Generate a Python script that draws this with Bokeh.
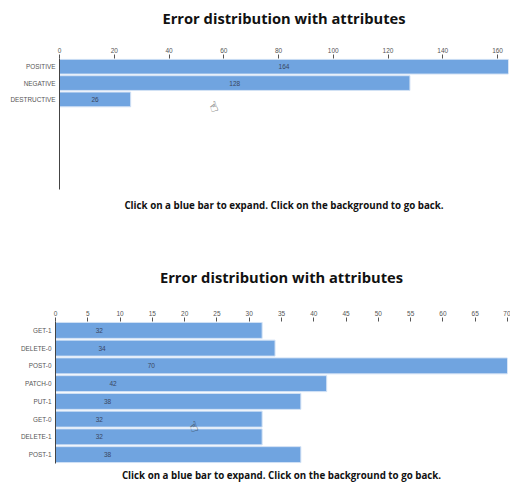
from bokeh.plotting import figure
from bokeh.layouts import column
from bokeh.models import FactorRange, Range1d, SingleIntervalTicker, Label, Title
from bokeh.core.properties import value
from bokeh.embed import file_html
from bokeh.resources import INLINE

TITLE = "Error distribution with attributes"
NOTE = "Click on a blue bar to expand. Click on the background to go back."

top_categories = ["POSITIVE", "NEGATIVE", "DESTRUCTIVE"]
top_values = [164, 128, 26]
top_blank_rows = 5
top_max = 164
top_tick_step = 20

bottom_categories = ["GET-1", "DELETE-0", "POST-0", "PATCH-0", "PUT-1", "GET-0", "DELETE-1", "POST-1"]
bottom_values = [32, 34, 70, 42, 38, 32, 32, 38]
bottom_max = 70
bottom_tick_step = 5

BAR = "#70a4e0"
EDGE = "#d3e2f5"
TEXT = "#555555"
LABEL = "#3a4660"


def chart(cats, vals, xmax, step, blanks, frame_w, frame_h, left, right, top, bottom,
          title_standoff, note_standoff, label_xs, hand_xy, margin):
    blank = [" " * (i + 1) for i in range(blanks)]
    factors = list(reversed(cats + blank))
    p = figure(width=left + frame_w + right, height=top + frame_h + bottom, frame_align=False,
               x_range=Range1d(0, xmax), y_range=FactorRange(factors=factors),
               x_axis_location="above", toolbar_location=None, output_backend="svg", margin=margin,
               min_border_left=left, min_border_right=right, min_border_top=top, min_border_bottom=bottom,
               background_fill_color="white", border_fill_color="white", outline_line_color=None)
    p.grid.visible = False
    p.hbar(y=cats, left=0, right=vals, height=0.9, fill_color=BAR, line_color=EDGE, line_width=1)
    p.text(x=label_xs, y=cats, text=[str(v) for v in vals], text_align="center", text_baseline="middle",
           text_font=value("Liberation Sans"), text_font_size="6.5px", text_color=LABEL)

    xa = p.xaxis[0]
    xa.ticker = SingleIntervalTicker(interval=step)
    xa.axis_line_color = None
    xa.major_tick_in = 0
    xa.major_tick_out = 4
    xa.minor_tick_line_color = None
    xa.major_tick_line_color = "#555555"
    xa.major_label_standoff = 2
    xa.major_label_text_font = "Liberation Sans"
    xa.major_label_text_font_size = "6.5px"
    xa.major_label_text_color = TEXT

    ya = p.yaxis[0]
    ya.axis_line_color = "#444444"
    ya.axis_line_width = 1
    ya.major_tick_line_color = None
    ya.minor_tick_line_color = None
    ya.major_tick_in = 0
    ya.major_tick_out = 0
    ya.major_label_standoff = 4
    ya.major_label_text_font = "Liberation Sans"
    ya.major_label_text_font_size = "6.4px"
    ya.major_label_text_color = TEXT

    p.add_layout(Title(text=TITLE, align="center", text_font="Open Sans", text_font_style="bold",
                       text_font_size="14.7px", text_color="#111111", standoff=title_standoff), "above")
    p.add_layout(Title(text=NOTE, align="center", text_font="Open Sans", text_font_style="bold",
                       text_font_size="9.75px", text_color="#111111", standoff=note_standoff), "below")
    p.add_layout(Label(x=hand_xy[0], y=hand_xy[1], x_units="screen", y_units="screen", text="\u261d",
                       text_font="DejaVu Sans", text_font_size="14px", text_color="#222222",
                       text_align="center", text_baseline="middle", angle=0.3))
    return p


top_scale = 449 / top_max
bottom_scale = 452 / bottom_max
# Value labels sit at half the bar on the chart's own scale; the lower chart keeps the upper chart's scale.
top_label_x = [v / 2 for v in top_values]
bottom_label_x = [v / 2 * top_scale / bottom_scale for v in bottom_values]

p1 = chart(top_categories, top_values, top_max, top_tick_step, top_blank_rows,
           449, 131, 59, 2, 70, 56, 34, 15, top_label_x, (154, 83), (-12, 0, 0, 0))
p2 = chart(bottom_categories, bottom_values, bottom_max, bottom_tick_step, 0,
           452, 142, 55, 3, 78, 22, 42, 7, bottom_label_x, (138, 37), (-2, 0, 0, 0))

layout = column(p1, p2, spacing=0)
open("out.html", "w").write(file_html(layout, INLINE))
